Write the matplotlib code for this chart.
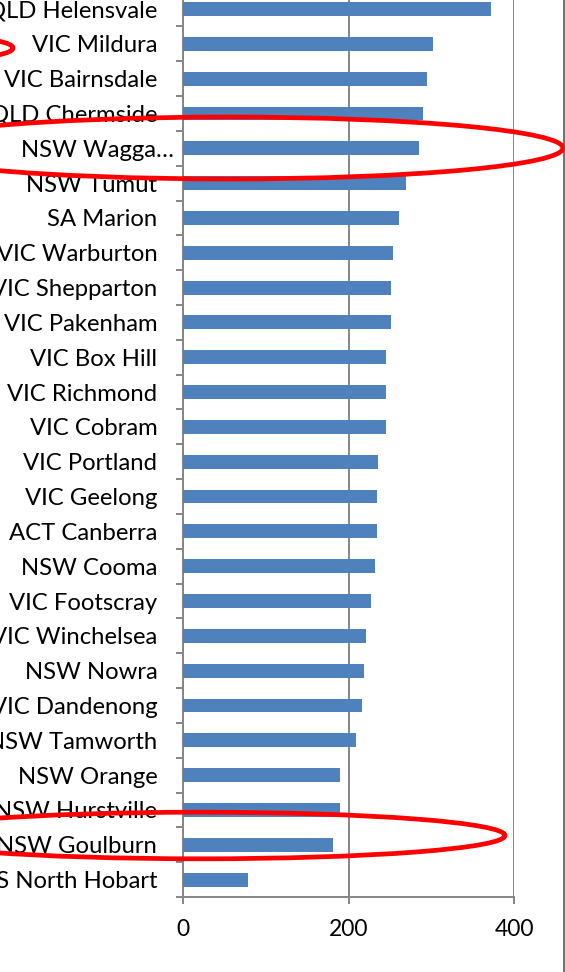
import numpy as np
import matplotlib
matplotlib.use('Agg')
import matplotlib.pyplot as plt
from matplotlib.patches import Ellipse
from matplotlib.transforms import ScaledTranslation

# data, top to bottom as in the chart
sites = ['QLD Helensvale', 'VIC Mildura', 'VIC Bairnsdale', 'QLD Chermside',
         'NSW Wagga\u2026', 'NSW Tumut', 'SA Marion', 'VIC Warburton',
         'VIC Shepparton', 'VIC Pakenham', 'VIC Box Hill', 'VIC Richmond',
         'VIC Cobram', 'VIC Portland', 'VIC Geelong', 'ACT Canberra',
         'NSW Cooma', 'VIC Footscray', 'VIC Winchelsea', 'NSW Nowra',
         'VIC Dandenong', 'NSW Tamworth', 'NSW Orange', 'NSW Hurstville',
         'NSW Goulburn', 'TAS North Hobart']
values = [372, 301.5, 295, 289, 284.5, 268.5, 261, 253, 251, 250.5, 245.5,
          244.5, 244.5, 235, 234.5, 233.5, 232, 226.5, 221, 218, 216.5, 209,
          189, 189, 181.5, 78.5]
x_ticks = [0, 200, 400]

W, H = 565, 972
plt.rcParams['font.family'] = ['Lato', 'DejaVu Sans']
fig = plt.figure(figsize=(W / 100, H / 100), dpi=100)

grey = '#868686'
ax = fig.add_axes([183 / W, 1 - 897 / H, 331.5 / W, (897 + 8.4) / H])
n = len(sites)
pos = np.arange(n)
ax.barh(pos, values, height=0.4, color='#4F81BD', zorder=3)
ax.set_ylim(n - 0.5, -0.5)
ax.set_xlim(0, 400)

ax.set_yticks(pos)
ax.set_yticklabels(sites, fontsize=17.2, color='black')
ax.set_yticks(np.arange(n + 1) - 0.5, minor=True)
ax.tick_params(axis='y', which='major', length=0, pad=18.5)
ax.tick_params(axis='y', which='minor', length=5, width=1.4, color=grey, direction='out')
ax.set_xticks(x_ticks)
ax.set_xticklabels([str(t) for t in x_ticks], fontsize=16.5)
ax.tick_params(axis='x', length=5, width=1.4, color=grey, pad=11)

ax.grid(axis='x', color=grey, linewidth=1.4, zorder=0)
for side in ['top', 'right']:
    ax.spines[side].set_visible(False)
for side in ['left', 'bottom']:
    ax.spines[side].set_color(grey)
    ax.spines[side].set_linewidth(1.4)

# truncated label sits further right in the original
for lab in ax.get_yticklabels():
    if lab.get_text().startswith('NSW Wagga'):
        lab.set_transform(lab.get_transform() + ScaledTranslation(0.17, 0, fig.dpi_scale_trans))

# overlay in pixel coordinates for the hand-drawn highlights and frame
ov = fig.add_axes([0, 0, 1, 1], facecolor='none')
ov.set_xlim(0, W)
ov.set_ylim(H, 0)
ov.axis('off')
for cx, cy, w, h in [(228, 148, 670, 62), (201, 835.5, 608, 46.6), (-40, 48, 106, 20)]:
    ov.add_patch(Ellipse((cx, cy), w, h, fill=False, edgecolor='#FF0000', linewidth=3.4))
ov.plot([563.5, 563.5], [0, H], color='#595959', linewidth=1.2)

fig.savefig('out.png', dpi=100)
